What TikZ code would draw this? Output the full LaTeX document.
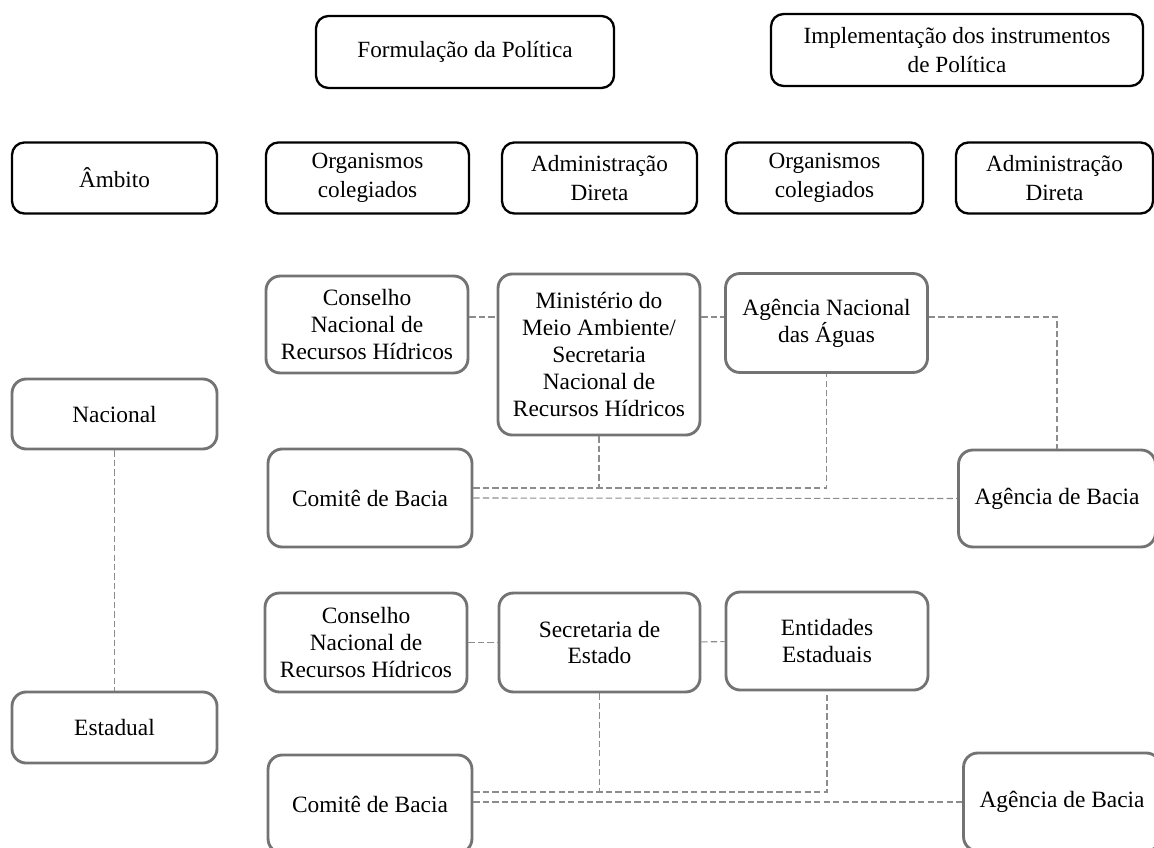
\documentclass[tikz,border=0pt]{standalone}
\usepackage{fontspec}
\setmainfont{Liberation Serif}
\usepackage{tikz}

\begin{document}
\begin{tikzpicture}[x=0.56pt, y=-0.56pt,
    head/.style={draw=black, line width=1.3pt, rounded corners=7pt, align=center,
                 inner sep=2pt, font=\fontsize{13}{16.4}\selectfont},
    unit/.style={draw=black!55, line width=1.6pt, rounded corners=8pt, align=center,
                 inner sep=2pt, font=\fontsize{13.1}{15}\selectfont},
    link/.style={draw=black!45, line width=0.6pt, dash pattern=on 3.5pt off 1.8pt}]
    \useasboundingbox (0,0) rectangle (1154,848);

    % column headers
    \node[head, minimum width=166.9pt, minimum height=40.3pt] (form) at (465,52) {Formulação da Política};
    \node[head, minimum width=208.3pt, minimum height=40.3pt] (impl) at (957,50) {Implementação dos instrumentos\\de Política};

    \node[head, minimum width=114.8pt, minimum height=39.8pt] (ambito) at (114.5,178) {Âmbito};
    \node[head, minimum width=113.7pt, minimum height=39.8pt] (org1)   at (367.5,178) {Organismos\\colegiados};
    \node[head, minimum width=109.2pt, minimum height=39.8pt] (adm1)   at (599.5,178) {Administração\\Direta};
    \node[head, minimum width=110.3pt, minimum height=39.8pt] (org2)   at (824.5,178) {Organismos\\colegiados};
    \node[head, minimum width=110.3pt, minimum height=39.8pt] (adm2)   at (1054.5,178) {Administração\\Direta};

    % national level
    \node[unit, minimum width=114.8pt, minimum height=39.2pt] (nac)     at (114.5,414) {Nacional};
    \node[unit, minimum width=113.1pt, minimum height=54.3pt] (cnrhN)   at (367,324.5) {Conselho\\Nacional de\\Recursos Hídricos};
    \node[unit, minimum width=113.1pt, minimum height=90.2pt] (mma)     at (599,354.5) {Ministério do\\Meio Ambiente/\\Secretaria\\Nacional de\\Recursos Hídricos};
    \node[unit, minimum width=113.1pt, minimum height=55.4pt] (ana)     at (826.5,323) {Agência Nacional\\das Águas};
    \node[unit, minimum width=114.2pt, minimum height=54.9pt] (comiteN) at (370,498) {Comitê de Bacia};
    \node[unit, minimum width=110.3pt, minimum height=54.3pt] (baciaN)  at (1057,498.5) {Agência de Bacia};

    % state level
    \node[unit, minimum width=114.8pt, minimum height=39.8pt] (est)     at (114.5,727.5) {Estadual};
    \node[unit, minimum width=113.1pt, minimum height=55.4pt] (cnrhE)   at (366,642.5) {Conselho\\Nacional de\\Recursos Hídricos};
    \node[unit, minimum width=112.6pt, minimum height=55.4pt] (sec)     at (599.5,642.5) {Secretaria de\\Estado};
    \node[unit, minimum width=113.1pt, minimum height=54.9pt] (ent)     at (827,641) {Entidades\\Estaduais};
    \node[unit, minimum width=114.2pt, minimum height=54.9pt] (comiteE) at (370,804) {Comitê de Bacia};
    \node[unit, minimum width=110.3pt, minimum height=54.9pt] (baciaE)  at (1062,802) {Agência de Bacia};

    \coordinate (rowN) at (0,317);
    \coordinate (busN) at (0,488);
    \coordinate (busE) at (0,792);

    % dashed links
    \draw[link] (nac) -- (est);
    \draw[link] (cnrhN.east |- rowN) -- (mma.west |- rowN);
    \draw[link] (mma.east |- rowN) -- (ana.west |- rowN);
    \draw[link] (ana.east |- rowN) -| (baciaN.north);
    \draw[link] (comiteN.east |- busN) -- (ana.south |- busN) -- (ana.south);
    \draw[link] (mma.south) -- (mma.south |- busN);
    \draw[link] (comiteN.east) -- (baciaN.west);

    \draw[link] (cnrhE) -- (sec);
    \draw[link] (sec) -- (ent);
    \draw[link] (comiteE.east |- busE) -- (ent.south |- busE) -- (ent.south);
    \draw[link] (sec.south) -- (sec.south |- busE);
    \draw[link] (comiteE.east |- baciaE.west) -- (baciaE.west);
\end{tikzpicture}
\end{document}
